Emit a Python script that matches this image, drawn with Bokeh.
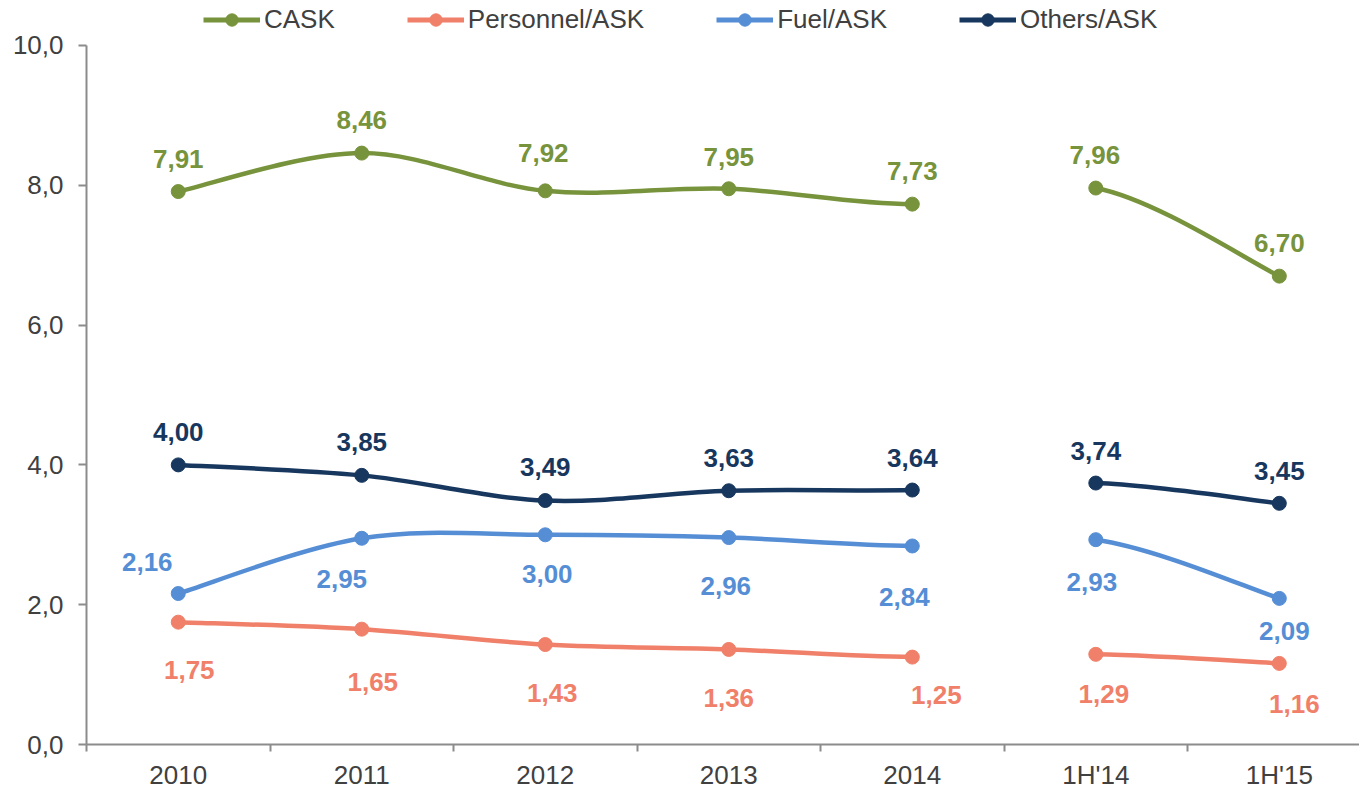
from bokeh.plotting import figure
from bokeh.models import Range1d, FixedTicker, ColumnDataSource, Legend, LegendItem
from bokeh.embed import file_html
from bokeh.resources import INLINE
from bokeh.core.properties import value

# ---------------- data ----------------
categories = ["2010", "2011", "2012", "2013", "2014", "1H'14", "1H'15"]
cask = [7.91, 8.46, 7.92, 7.95, 7.73, 7.96, 6.70]
personnel = [1.75, 1.65, 1.43, 1.36, 1.25, 1.29, 1.16]
fuel = [2.16, 2.95, 3.00, 2.96, 2.84, 2.93, 2.09]
others = [4.00, 3.85, 3.49, 3.63, 3.64, 3.74, 3.45]
series_names = ["CASK", "Personnel/ASK", "Fuel/ASK", "Others/ASK"]
y_tick_values = [0, 2, 4, 6, 8, 10]
y_tick_labels = ["0,0", "2,0", "4,0", "6,0", "8,0", "10,0"]

# ---------------- styles ----------------
colors = ["#77933C", "#F08069", "#558ED5", "#17375E"]
hidden_segment = 4  # 2014 -> 1H'14 line is not drawn
label_dx = [
    [0, 0, -2, 0, 0, -1, 0],
    [11, 11, 7, 0, 24, 8, 15],
    [-31, -20, 2, -3, -8, -4, 5],
    [0, 0, 0, 0, 0, 0, 0],
]
label_dy = [
    [-33, -33, -38, -32, -33, -33, -33],
    [48, 53, 48, 49, 38, 40, 41],
    [-32, 41, 39, 48, 51, 42, 33],
    [-33, -33, -34, -33, -32, -32, -32],
]
FONT = "Liberation Sans"
TXT = "#404040"
NAN = float("nan")

W, H = 1359, 792
p = figure(width=W, height=H, output_backend="svg", toolbar_location=None,
           x_range=Range1d(-0.5, 6.437), y_range=Range1d(0, 10.643),
           min_border_left=86, min_border_right=0, min_border_top=0,
           min_border_bottom=47)
p.outline_line_color = None
p.xgrid.visible = False
p.ygrid.visible = False
p.background_fill_color = "white"
p.border_fill_color = "white"

xs = list(range(len(categories)))


def bezier_source(ys):
    d = dict(x0=[], y0=[], x1=[], y1=[], cx0=[], cy0=[], cx1=[], cy1=[])
    n = len(xs)
    for i in range(n - 1):
        if i == hidden_segment:
            continue
        xp, yp = (xs[i - 1], ys[i - 1]) if i > 0 else (xs[i], ys[i])
        xn, yn = (xs[i + 2], ys[i + 2]) if i + 2 < n else (xs[i + 1], ys[i + 1])
        d["x0"].append(xs[i]); d["y0"].append(ys[i])
        d["x1"].append(xs[i + 1]); d["y1"].append(ys[i + 1])
        d["cx0"].append(xs[i] + (xs[i + 1] - xp) / 6)
        d["cy0"].append(ys[i] + (ys[i + 1] - yp) / 6)
        d["cx1"].append(xs[i + 1] - (xn - xs[i]) / 6)
        d["cy1"].append(ys[i + 1] - (yn - ys[i]) / 6)
    return ColumnDataSource(d)


items = []
for k, (name, vals) in enumerate(zip(series_names, [cask, personnel, fuel, others])):
    col = colors[k]
    p.bezier(x0="x0", y0="y0", x1="x1", y1="y1", cx0="cx0", cy0="cy0",
             cx1="cx1", cy1="cy1", source=bezier_source(vals),
             line_color=col, line_width=4.5, line_cap="round")
    sc = p.scatter(x=xs, y=vals, size=14, fill_color=col, line_color=col)
    dummy = p.line(x=[NAN], y=[NAN], line_color=col, line_width=5)
    items.append(LegendItem(label=name, renderers=[dummy, sc]))
    src = ColumnDataSource(dict(
        x=xs, y=vals, t=[f"{v:.2f}".replace(".", ",") for v in vals],
        dx=label_dx[k], dy=label_dy[k]))
    p.text(x="x", y="y", text="t", x_offset="dx", y_offset="dy", source=src,
           text_color=col, text_font=value(FONT), text_font_size="26px",
           text_font_style="bold", text_align="center", text_baseline="middle")

legend = Legend(items=items, orientation="horizontal", location=(117, 709),
                glyph_width=57, glyph_height=31, label_height=31,
                label_standoff=4, spacing=72, padding=0, margin=0,
                border_line_color=None, background_fill_alpha=0,
                label_text_font=FONT, label_text_font_size="26px",
                label_text_color=TXT)
p.add_layout(legend)

# y axis
ya = p.yaxis[0]
ya.ticker = FixedTicker(ticks=y_tick_values)
ya.major_label_overrides = {v: s for v, s in zip(y_tick_values, y_tick_labels)}
ya.bounds = (0, 10)
ya.axis_line_color = "#8C8C8C"
ya.axis_line_width = 2
ya.major_tick_line_color = "#8C8C8C"
ya.major_tick_line_width = 2
ya.major_tick_out = 8
ya.major_tick_in = 0
ya.minor_tick_line_color = None
ya.major_label_standoff = 15
ya.major_label_text_font = FONT
ya.major_label_text_font_size = "26px"
ya.major_label_text_color = TXT

# x axis
xa = p.xaxis[0]
xa.ticker = FixedTicker(ticks=xs, minor_ticks=[i - 0.5 for i in range(len(xs) + 1)])
xa.major_label_overrides = {i: c for i, c in zip(xs, categories)}
xa.axis_line_color = "#8C8C8C"
xa.axis_line_width = 2
xa.major_tick_out = 0
xa.major_tick_in = 0
xa.major_tick_line_color = None
xa.minor_tick_out = 7
xa.minor_tick_in = 0
xa.minor_tick_line_color = "#8C8C8C"
xa.minor_tick_line_width = 2
xa.major_label_standoff = 8
xa.major_label_text_font = FONT
xa.major_label_text_font_size = "26px"
xa.major_label_text_color = TXT

open("out.html", "w").write(file_html(p, INLINE))
